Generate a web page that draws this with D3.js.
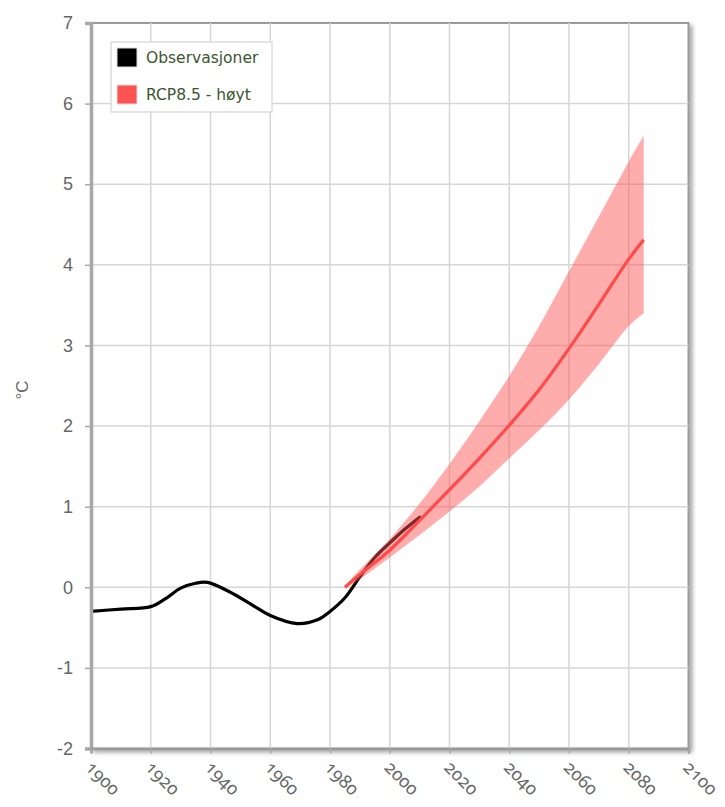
<!DOCTYPE html>
<html>
<head>
<meta charset="utf-8">
<script src="https://cdn.jsdelivr.net/npm/d3@7"></script>
<style>
  body { margin: 0; background: #fff; }
  svg { display: block; }
</style>
</head>
<body>
<div id="chart"></div>
<script>
// observed temperature anomaly (smoothed)
const obsYears  = [1900, 1910, 1920, 1925, 1930, 1935, 1939, 1946, 1954, 1960, 1969, 1976, 1980, 1985, 1990, 1995, 2000, 2005, 2010];
const obsValues = [-0.30, -0.27, -0.24, -0.14, -0.01, 0.05, 0.06, -0.05, -0.22, -0.35, -0.45, -0.40, -0.30, -0.13, 0.13, 0.37, 0.55, 0.72, 0.87];

// RCP8.5 projection: median and range
const rcpYears = [1985, 1990, 2000, 2010, 2020, 2030, 2040, 2050, 2060, 2070, 2080, 2085];
const rcpMid   = [0.00, 0.16, 0.46, 0.83, 1.21, 1.60, 2.01, 2.45, 2.96, 3.51, 4.07, 4.31];
const rcpHigh  = [0.02, 0.22, 0.60, 1.04, 1.53, 2.06, 2.62, 3.24, 3.92, 4.60, 5.28, 5.60];
const rcpLow   = [-0.02, 0.10, 0.37, 0.65, 0.94, 1.25, 1.60, 1.95, 2.33, 2.77, 3.24, 3.40];

const xTicks = d3.range(1900, 2101, 20);
const yTicks = d3.range(-2, 8, 1);
const legendLabels = ["Observasjoner", "RCP8.5 - høyt"];
const legendColors = ["#000000", "#ff5252"];

const W = 725, H = 807;
const pL = 91, pR = 688.5, pT = 23, pB = 748.5;

const svg = d3.select("#chart").append("svg")
    .attr("width", W).attr("height", H);

const defs = svg.append("defs");
const shadow = defs.append("filter").attr("id", "shadow")
    .attr("x", "-5%").attr("y", "-5%").attr("width", "115%").attr("height", "115%");
shadow.append("feDropShadow").attr("dx", 3).attr("dy", 3)
    .attr("stdDeviation", 2).attr("flood-color", "#000").attr("flood-opacity", 0.35);
defs.append("clipPath").attr("id", "plotclip").append("rect")
    .attr("x", pL).attr("y", pT).attr("width", pR - pL).attr("height", pB - pT);

const x = d3.scaleLinear().domain([1900, 2100]).range([pL, pR]);
const y = d3.scaleLinear().domain([-2, 7]).range([pB, pT]);

// plot background with frame + shadow
svg.append("rect")
    .attr("x", pL).attr("y", pT)
    .attr("width", pR - pL).attr("height", pB - pT)
    .attr("fill", "#fff").attr("stroke", "#9a9a9a").attr("stroke-width", 2)
    .attr("filter", "url(#shadow)");

// grid
const grid = svg.append("g");
grid.selectAll(".vg").data(xTicks.slice(1, -1)).join("line")
    .attr("x1", d => x(d)).attr("x2", d => x(d))
    .attr("y1", pT).attr("y2", pB)
    .attr("stroke", "#d6d6d6").attr("stroke-width", 1.5);
grid.selectAll(".hg").data(yTicks.slice(1, -1)).join("line")
    .attr("x1", pL).attr("x2", pR)
    .attr("y1", d => y(d)).attr("y2", d => y(d))
    .attr("stroke", "#d6d6d6").attr("stroke-width", 1.5);

const plot = svg.append("g").attr("clip-path", "url(#plotclip)");

// observations
const obs = obsYears.map((yr, i) => [yr, obsValues[i]]);
plot.append("path")
    .datum(obs)
    .attr("fill", "none").attr("stroke", "#000").attr("stroke-width", 3.2)
    .attr("stroke-linejoin", "round").attr("stroke-linecap", "round")
    .attr("d", d3.line().x(d => x(d[0])).y(d => y(d[1])).curve(d3.curveCatmullRom.alpha(0.5)));

// projection band
const band = rcpYears.map((yr, i) => ({yr, lo: rcpLow[i], hi: rcpHigh[i], mid: rcpMid[i]}));
plot.append("path")
    .datum(band)
    .attr("fill", "#ff5252").attr("fill-opacity", 0.48)
    .attr("d", d3.area().x(d => x(d.yr)).y0(d => y(d.lo)).y1(d => y(d.hi)).curve(d3.curveCatmullRom.alpha(0.5)));

plot.append("path")
    .datum(band)
    .attr("fill", "none").attr("stroke", "#ff4a4a").attr("stroke-width", 3.2)
    .attr("d", d3.line().x(d => x(d.yr)).y(d => y(d.mid)).curve(d3.curveCatmullRom.alpha(0.5)));

// left axis
const yAxis = svg.append("g").attr("transform", `translate(${pL},0)`)
    .call(d3.axisLeft(y).tickValues(yTicks).tickSize(6).tickPadding(12).tickFormat(d => String(d)));
yAxis.select(".domain").attr("stroke", "#a8a8a8").attr("stroke-width", 3.5);
yAxis.selectAll(".tick line").attr("stroke", "#a8a8a8").attr("stroke-width", 1.5);
yAxis.selectAll(".tick text")
    .attr("fill", "#666").attr("font-family", "'Liberation Sans', Arial, sans-serif").attr("font-size", 18);

// bottom axis
const xAxis = svg.append("g").attr("transform", `translate(0,${pB})`)
    .call(d3.axisBottom(x).tickValues(xTicks).tickSize(5).tickFormat(d => String(d)));
xAxis.select(".domain").attr("stroke", "#9a9a9a").attr("stroke-width", 2.5);
xAxis.selectAll(".tick line").attr("stroke", "#a8a8a8").attr("stroke-width", 1.5);
xAxis.selectAll(".tick text")
    .attr("fill", "#666")
    .attr("font-family", "'Noto Sans', sans-serif")
    .attr("font-size", 18)
    .style("font-variant-numeric", "oldstyle-nums")
    .attr("text-anchor", "start")
    .attr("dy", 0).attr("y", 0)
    .attr("transform", "translate(-7,20) rotate(45)");

// y title
svg.append("text")
    .attr("transform", `translate(28,390) rotate(-90)`)
    .attr("text-anchor", "middle")
    .attr("fill", "#666")
    .attr("font-family", "'Liberation Sans', Arial, sans-serif")
    .attr("font-size", 17)
    .text("°C");

// legend
const lg = svg.append("g").attr("transform", "translate(111,42)");
lg.append("rect").attr("width", 161).attr("height", 70)
    .attr("fill", "#fff").attr("stroke", "#ddd").attr("stroke-width", 1.5);
const items = lg.selectAll(".item").data(legendLabels).join("g")
    .attr("transform", (d, i) => `translate(6,${6 + i * 37})`);
items.append("rect").attr("width", 20).attr("height", 19)
    .attr("fill", (d, i) => legendColors[i])
    .attr("stroke", "#ddd").attr("stroke-width", 1);
items.append("text")
    .attr("x", 29).attr("y", 15)
    .attr("fill", "#3b5530")
    .attr("font-family", "'DejaVu Sans', Verdana, sans-serif")
    .attr("font-size", 15.5)
    .text(d => d);
</script>
</body>
</html>
